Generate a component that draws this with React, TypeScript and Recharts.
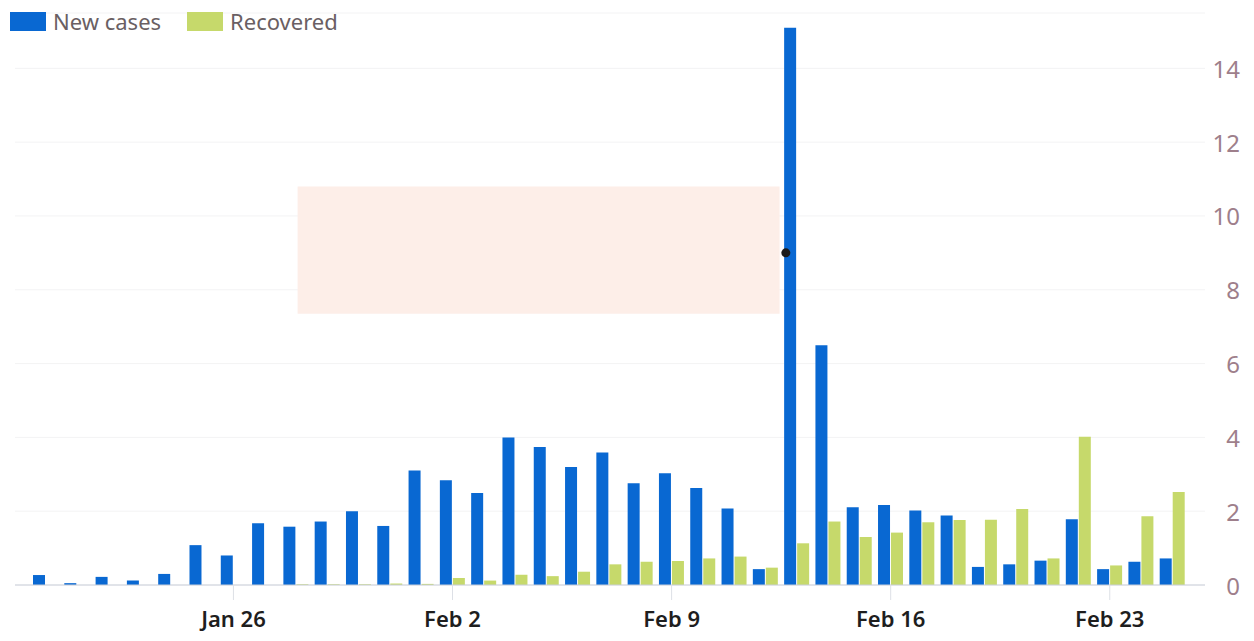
import React from 'react';
import { BarChart, Bar, XAxis, YAxis, CartesianGrid, ReferenceArea, ReferenceDot } from 'recharts';

const dates = [
  'Jan 20', 'Jan 21', 'Jan 22', 'Jan 23', 'Jan 24', 'Jan 25', 'Jan 26', 'Jan 27', 'Jan 28', 'Jan 29', 'Jan 30', 'Jan 31',
  'Feb 1', 'Feb 2', 'Feb 3', 'Feb 4', 'Feb 5', 'Feb 6', 'Feb 7', 'Feb 8', 'Feb 9', 'Feb 10', 'Feb 11', 'Feb 12',
  'Feb 13', 'Feb 14', 'Feb 15', 'Feb 16', 'Feb 17', 'Feb 18', 'Feb 19', 'Feb 20', 'Feb 21', 'Feb 22', 'Feb 23',
  'Feb 24', 'Feb 25',
];

const newCases = [
  0.27, 0.05, 0.22, 0.12, 0.3, 1.08, 0.8, 1.67, 1.58, 1.72, 2.0, 1.6,
  3.1, 2.84, 2.49, 4.0, 3.74, 3.2, 3.59, 2.76, 3.03, 2.63, 2.07, 0.43,
  15.1, 6.5, 2.11, 2.17, 2.02, 1.88, 0.49, 0.56, 0.66, 1.78, 0.43,
  0.63, 0.72,
];

const recovered = [
  0, 0, 0, 0, 0, 0, 0, 0, 0.02, 0.02, 0.02, 0.04,
  0.03, 0.19, 0.12, 0.28, 0.24, 0.36, 0.56, 0.63, 0.65, 0.72, 0.77, 0.47,
  1.13, 1.72, 1.3, 1.42, 1.7, 1.76, 1.77, 2.06, 0.72, 4.02, 0.53,
  1.86, 2.52,
];

const xTicks = ['Jan 26', 'Feb 2', 'Feb 9', 'Feb 16', 'Feb 23'];
const yTicks = [0, 2, 4, 6, 8, 10, 12, 14];

// faint highlight box and marker visible in the reference (day-index units)
const highlightBox = { x1: 8.05, x2: 23.45, y1: 7.35, y2: 10.8 };
const marker = { x: 23.65, y: 9 };

const data = dates.map((d, i) => ({ date: d, idx: i, newCases: newCases[i], recovered: recovered[i] }));

const BLUE = '#0968d2';
const GREEN = '#c6d96b';

const XTick = (props: any) => {
  const { x, y, payload } = props;
  return (
    <text x={x} y={y + 18} textAnchor="middle" dominantBaseline="central"
      fontFamily="'Noto Sans', sans-serif" fontSize={22} fontWeight={600} fill="#1e1e1e">
      {payload.value}
    </text>
  );
};

const YTick = (props: any) => {
  const { x, y, payload } = props;
  return (
    <text x={x + 35} y={y} textAnchor="end" dominantBaseline="central"
      fontFamily="'Noto Sans', sans-serif" fontSize={24} fill="#9e7f8b">
      {payload.value}
    </text>
  );
};

const LegendItem = ({ color, label }: { color: string; label: string }) => (
  <div style={{ display: 'flex', alignItems: 'center', marginRight: 26 }}>
    <div style={{ width: 36, height: 19, background: color, marginRight: 7 }} />
    <span style={{ fontFamily: "'Noto Sans', sans-serif", fontSize: 22, color: '#6a5f63' }}>{label}</span>
  </div>
);

export default function App() {
  return (
    <div style={{ position: 'relative', width: 1238, height: 625 }}>
      <BarChart
        width={1238}
        height={625}
        data={data}
        margin={{ top: 5, right: 0, bottom: 0, left: 7 }}
        barGap={1}
        barSize={12}
      >
        <CartesianGrid vertical={false} stroke="#f3f3f4" />
        <XAxis
          dataKey="date"
          ticks={xTicks}
          interval={0}
          height={48}
          tickSize={15}
          tickMargin={0}
          tick={<XTick />}
          axisLine={{ stroke: '#c9ced9' }}
          tickLine={{ stroke: '#dde0e6' }}
          padding={{ left: 15, right: 17 }}
        />
        <XAxis
          xAxisId="num"
          dataKey="idx"
          type="number"
          domain={[-0.5, 36.5]}
          hide
          padding={{ left: 15, right: 17 }}
        />
        <YAxis
          orientation="right"
          width={41}
          domain={[0, 15.5]}
          ticks={yTicks}
          tickSize={0}
          tickMargin={0}
          axisLine={false}
          tickLine={false}
          tick={<YTick />}
        />
        <ReferenceArea xAxisId="num" x1={highlightBox.x1} x2={highlightBox.x2} y1={highlightBox.y1} y2={highlightBox.y2}
          fill="#fdeee8" fillOpacity={1} stroke="none" />
        <Bar dataKey="newCases" fill={BLUE} isAnimationActive={false} />
        <Bar dataKey="recovered" fill={GREEN} isAnimationActive={false} />
        <ReferenceDot xAxisId="num" x={marker.x} y={marker.y} r={4.5} fill="#1b1b1b" stroke="none" />
      </BarChart>
      <div style={{ position: 'absolute', left: 2, top: -2, display: 'flex', alignItems: 'center' }}>
        <LegendItem color={BLUE} label="New cases" />
        <LegendItem color={GREEN} label="Recovered" />
      </div>
    </div>
  );
}
